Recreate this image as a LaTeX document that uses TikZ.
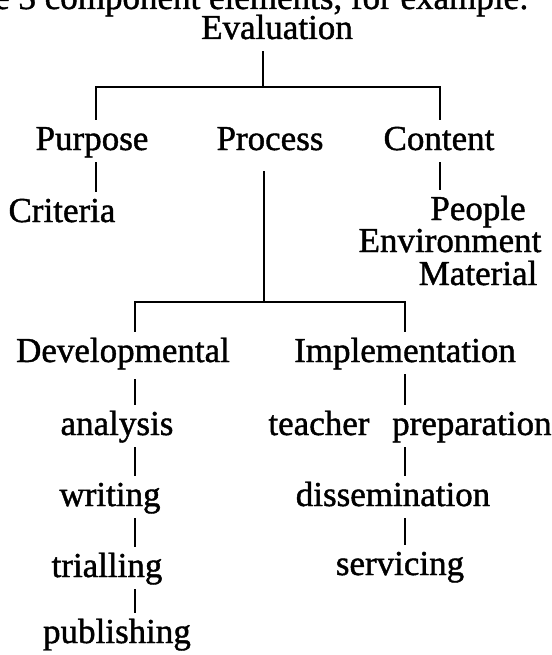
\documentclass[tikz,border=0pt]{standalone}
\usepackage{fontspec}
\setmainfont{Liberation Serif}[BoldFont=Liberation Serif,BoldFeatures={FakeBold=1.2}]
\begin{document}
\begin{tikzpicture}[x=1pt,y=-1pt,
  lbl/.style={anchor=base,font=\fontsize{35}{38}\selectfont\bfseries,inner xsep=0pt,inner ysep=6pt,text height=24pt,text depth=6pt},
  conn/.style={line width=1.2pt,line cap=butt}]
\useasboundingbox (0,0) rectangle (551,655);
\clip (0,0) rectangle (551,655);
% partial header line (cut at top)
\node[lbl,anchor=base west] (hdr) at (-6,9) {e 3 component elements, for example:};
% column coordinates
\coordinate (cEval) at (263,0);
\coordinate (cPur) at (96,0);
\coordinate (cPro) at (264,0);
\coordinate (cCon) at (440,0);
\coordinate (cDev) at (135,0);
\coordinate (cImp) at (405,0);
\coordinate (bar1) at (0,87);
\coordinate (bar2) at (0,302);
% nodes
\node[lbl] (eval) at (277,39) {Evaluation};
\node[lbl] (purpose) at (92,150) {Purpose};
\node[lbl] (process) at (270,150) {Process};
\node[lbl] (content) at (439,150) {Content};
\node[lbl] (criteria) at (62,222) {Criteria};
\node[lbl] (people) at (478,220) {People};
\node[lbl] (environment) at (450,252) {Environment};
\node[lbl] (material) at (478,285) {Material};
\node[lbl] (dev) at (123,362) {Developmental};
\node[lbl] (imp) at (405,362) {Implementation};
\node[lbl] (analysis) at (117,435) {analysis};
\node[lbl] (teacher) at (410,435) {teacher\hspace{0.4em} preparation};
\node[lbl] (writing) at (110,506) {writing};
\node[lbl] (dissem) at (393,506) {dissemination};
\node[lbl] (trialling) at (107,577) {trialling};
\node[lbl] (servicing) at (400,575) {servicing};
\node[lbl] (publishing) at (117,643) {publishing};
% top-level tree
\draw[conn] (eval.south -| cEval) -- (bar1 -| cEval);
\draw[conn] (purpose.north -| cPur) -- (bar1 -| cPur) -- (bar1 -| cCon) -- (content.north -| cCon);
\draw[conn] (purpose.south -| cPur) -- (criteria.north -| cPur);
\draw[conn] (content.south -| cCon) -- (people.north -| cCon);
% process subtree
\draw[conn,shorten <=9pt] (process.south -| cPro) -- (bar2 -| cPro);
\draw[conn] (dev.north -| cDev) -- (bar2 -| cDev) -- (bar2 -| cImp) -- (imp.north -| cImp);
\draw[conn,shorten <=5pt] (dev.south -| cDev) -- (analysis.north -| cDev);
\draw[conn] (analysis.south -| cDev) -- (writing.north -| cDev);
\draw[conn] (writing.south -| cDev) -- (trialling.north -| cDev);
\draw[conn] (trialling.south -| cDev) -- (publishing.north -| cDev);
\draw[conn] (imp.south -| cImp) -- (teacher.north -| cImp);
\draw[conn] (teacher.south -| cImp) -- (dissem.north -| cImp);
\draw[conn] (dissem.south -| cImp) -- (servicing.north -| cImp);
\end{tikzpicture}
\end{document}
